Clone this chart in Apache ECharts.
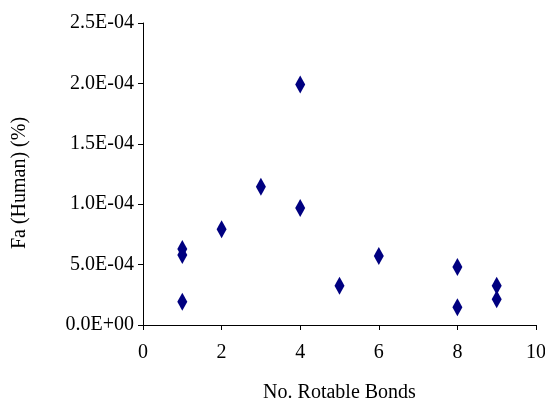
<!DOCTYPE html>
<html>
<head>
<meta charset="utf-8">
<script src="https://cdn.jsdelivr.net/npm/echarts@6/dist/echarts.min.js"></script>
<style>html,body{margin:0;padding:0;background:#fff;}#c{width:545px;height:403px;}</style>
</head>
<body>
<div id="c"></div>
<script>
var rotableBonds = [1, 1, 1, 2, 3, 4, 4, 5, 6, 8, 8, 9, 9];
var faHuman = [0.000063, 0.000058, 0.0000193, 0.0000792, 0.0001145, 0.000199, 0.0000969, 0.0000325, 0.0000571, 0.000048, 0.0000147, 0.0000325, 0.0000213];
var yTickLabels = ['0.0E+00', '5.0E-04', '1.0E-04', '1.5E-04', '2.0E-04', '2.5E-04'];
var xTitle = 'No. Rotable Bonds';
var yTitle = 'Fa (Human) (%)';

var points = rotableBonds.map(function (x, i) { return [x, faHuman[i]]; });
var font = 'Liberation Serif, Times New Roman, serif';
var chart = echarts.init(document.getElementById('c'));
chart.setOption({
  animation: false,
  backgroundColor: '#fff',
  grid: { left: 143, right: 9, top: 23, bottom: 78, containLabel: false, outerBoundsMode: 'none' },
  xAxis: {
    type: 'value', min: 0, max: 10, interval: 2,
    name: xTitle, nameLocation: 'middle', nameGap: 58,
    nameTextStyle: { fontFamily: font, fontSize: 20, color: '#000' },
    axisLine: { show: true, onZero: false, lineStyle: { color: '#000', width: 1 } },
    axisTick: { show: true, inside: false, length: 5, lineStyle: { color: '#000' } },
    axisLabel: { fontFamily: font, fontSize: 20, color: '#000', margin: 18 },
    splitLine: { show: false }
  },
  yAxis: {
    type: 'value', min: 0, max: 0.00025, interval: 0.00005,
    name: yTitle, nameLocation: 'middle', nameGap: 113, nameRotate: 90,
    nameTextStyle: { fontFamily: font, fontSize: 20, color: '#000', padding: [0, 18, 0, 0] },
    axisLine: { show: true, lineStyle: { color: '#000', width: 1 } },
    axisTick: { show: true, inside: false, length: 5, lineStyle: { color: '#000' } },
    axisLabel: {
      fontFamily: font, fontSize: 20, color: '#000', margin: 9,
      formatter: function (v) { return yTickLabels[Math.round(v / 0.00005)]; }
    },
    splitLine: { show: false }
  },
  series: [{
    type: 'scatter',
    data: points,
    symbol: 'diamond',
    symbolSize: [10, 18],
    itemStyle: { color: '#000080', opacity: 1 }
  }]
});
</script>
</body>
</html>
